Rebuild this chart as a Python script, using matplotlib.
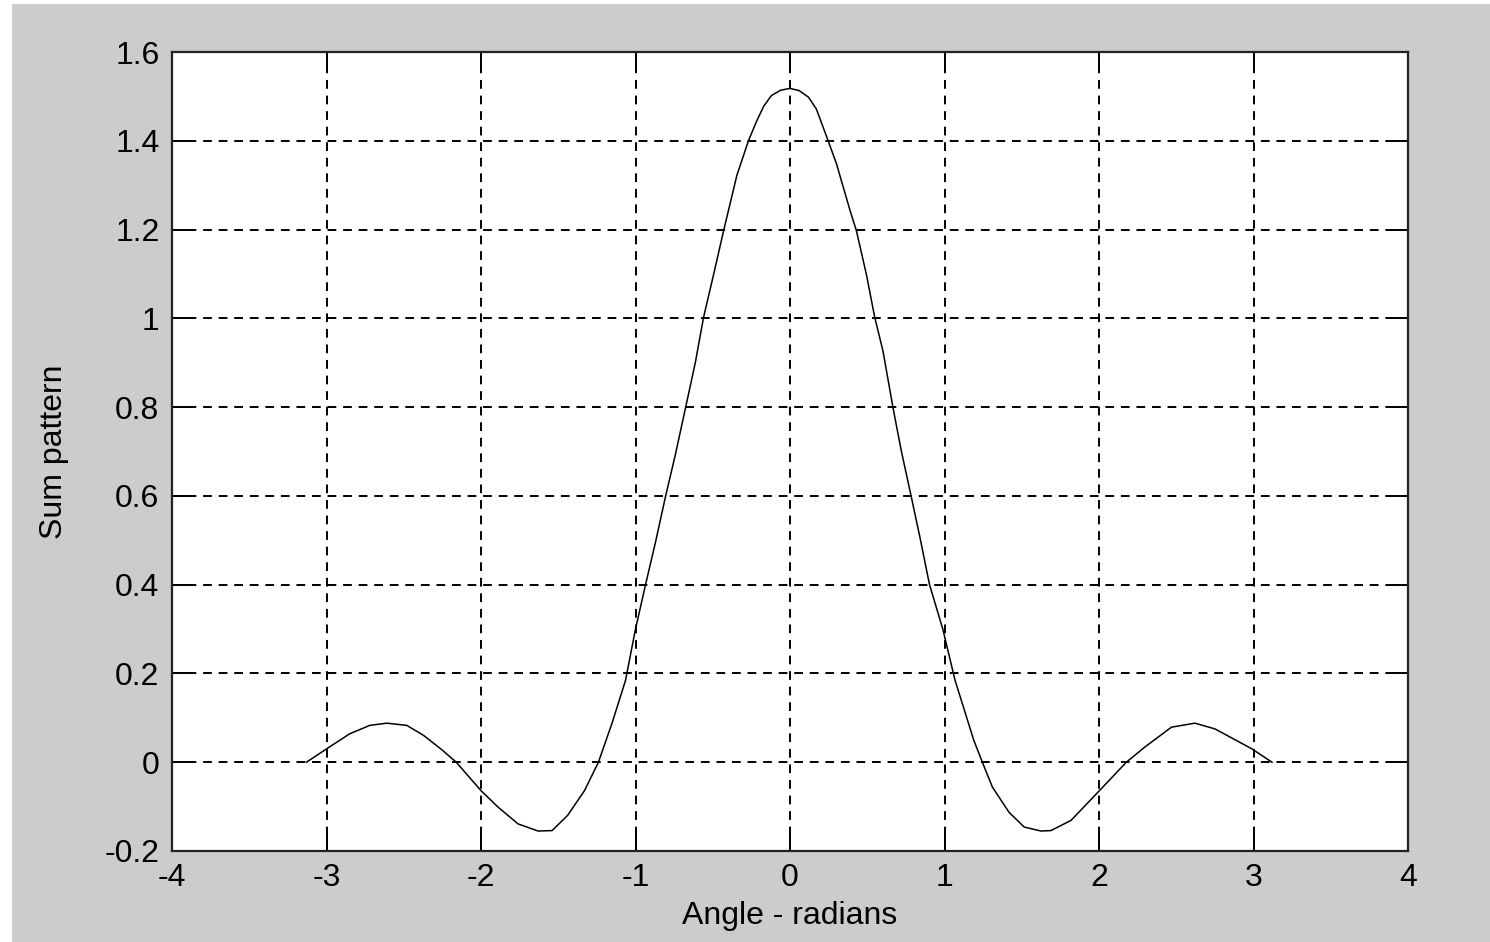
import numpy as np
import matplotlib.pyplot as plt
from matplotlib.patches import Rectangle

# Sum pattern vs angle
angle_rad = [-3.13, -3.00, -2.85, -2.72, -2.61, -2.48, -2.37, -2.26, -2.16, -2.00,
             -1.89, -1.76, -1.63, -1.54, -1.44, -1.33, -1.24, -1.15, -1.065, -1.00,
             -0.935, -0.871, -0.806, -0.742, -0.677, -0.613, -0.559, -0.495, -0.43, -0.344,
             -0.269, -0.215, -0.17, -0.12, -0.06, 0.0, 0.06, 0.12, 0.17, 0.247, 0.301,
             0.387, 0.43, 0.495, 0.548, 0.602, 0.667, 0.72, 0.785, 0.845, 0.903,
             0.989, 1.068, 1.19, 1.245, 1.31, 1.418, 1.516, 1.624, 1.689, 1.819,
             1.992, 2.177, 2.296, 2.469, 2.621, 2.751, 2.99, 3.12]
sum_pattern = [0.0, 0.030, 0.064, 0.083, 0.088, 0.083, 0.060, 0.030, 0.0, -0.064,
               -0.101, -0.139, -0.155, -0.154, -0.120, -0.064, 0.0, 0.090, 0.184, 0.30,
               0.40, 0.495, 0.598, 0.693, 0.797, 0.900, 1.003, 1.098, 1.197, 1.322,
               1.400, 1.445, 1.478, 1.502, 1.514, 1.518, 1.513, 1.498, 1.472, 1.400, 1.348,
               1.245, 1.197, 1.098, 1.003, 0.926, 0.798, 0.702, 0.598, 0.50, 0.40,
               0.30, 0.185, 0.049, 0.0, -0.056, -0.113, -0.146, -0.155, -0.154, -0.131,
               -0.068, 0.0, 0.034, 0.079, 0.088, 0.075, 0.030, 0.0]

x_ticks = [-4, -3, -2, -1, 0, 1, 2, 3, 4]
y_ticks = [-0.2, 0, 0.2, 0.4, 0.6, 0.8, 1, 1.2, 1.4, 1.6]
y_tick_labels = ["-0.2", "0", "0.2", "0.4", "0.6", "0.8", "1", "1.2", "1.4", "1.6"]

plt.rcParams['font.family'] = ['Liberation Sans', 'DejaVu Sans']

W, H = 1490, 942
fig = plt.figure(figsize=(W / 100, H / 100), dpi=100, facecolor='#cccccc')
# thin white strips at the top and left edge of the screenshot
fig.patches.append(Rectangle((0, 0), 12 / W, 1, transform=fig.transFigure,
                             facecolor='white', edgecolor='none', zorder=-1))
fig.patches.append(Rectangle((0, 1 - 4 / H), 1, 4 / H, transform=fig.transFigure,
                             facecolor='white', edgecolor='none', zorder=-1))

ax = fig.add_axes([172 / W, (H - 851) / H, 1236 / W, 799 / H])
ax.set_facecolor('white')

ax.plot(angle_rad, sum_pattern, color='black', lw=1.1, zorder=3)

ax.set_xlim(-4, 4)
ax.set_ylim(-0.2, 1.6)
ax.set_xticks(x_ticks)
ax.set_xticklabels([str(t) for t in x_ticks])
ax.set_yticks(y_ticks)
ax.set_yticklabels(y_tick_labels)

ax.grid(True, color='black', lw=1.4, linestyle=(0, (4.5, 3.5)))
ax.tick_params(direction='in', length=13, width=1.4, top=True, right=True,
               labelsize=23, colors='black', pad=9)
for s in ax.spines.values():
    s.set_linewidth(1.6)
    s.set_color('#222222')

ax.set_xlabel("Angle - radians", fontsize=23)
ax.set_ylabel("Sum pattern", fontsize=23)
ax.xaxis.set_label_coords(0.5, -0.063)
ax.yaxis.set_label_coords(-0.083, 0.5)

fig.savefig("out.png", dpi=100, facecolor=fig.get_facecolor())
